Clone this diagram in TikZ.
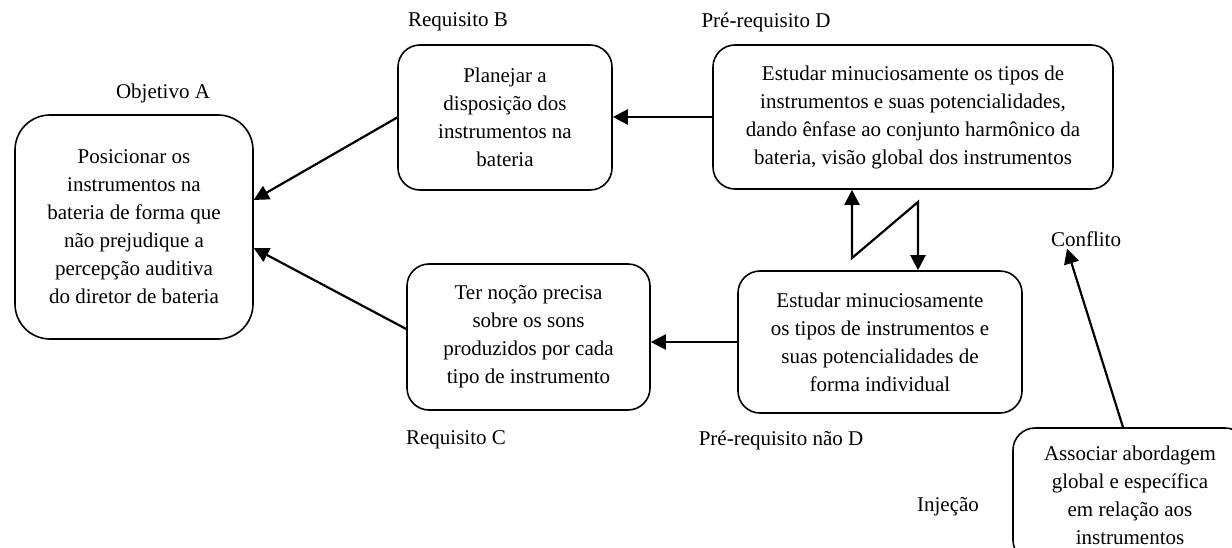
\documentclass[tikz,border=0pt]{standalone}
\usepackage{fontspec}
\setmainfont{Liberation Serif}
\usetikzlibrary{arrows.meta,calc}
\begin{document}
\begin{tikzpicture}[x=1pt,y=-1pt,
  box/.style={draw, line width=1.6pt, rounded corners=22pt, align=center, inner sep=0pt, font=\fontsize{21}{28}\selectfont},
  lbl/.style={inner sep=0pt, font=\fontsize{21}{28}\selectfont},
  arr/.style={line width=2.2pt, -{Triangle[length=15pt,width=15pt]}}]
\useasboundingbox (0,0) rectangle (1232,548);
\node[box, minimum width=238pt, minimum height=224pt, rounded corners=35pt] (A) at (134,227) {Posicionar os\\instrumentos na\\bateria de forma que\\não prejudique a\\percepção auditiva\\do diretor de bateria};
\node[box, minimum width=214pt, minimum height=145pt] (B) at (505,117.5) {Planejar a\\disposição dos\\instrumentos na\\bateria};
\node[box, minimum width=400pt, minimum height=144pt] (D) at (913,117) {Estudar minuciosamente os tipos de\\instrumentos e suas potencialidades,\\dando ênfase ao conjunto harmônico da\\bateria, visão global dos instrumentos};
\node[box, minimum width=284pt, minimum height=142pt] (nD) at (880,342) {Estudar minuciosamente\\os tipos de instrumentos e\\suas potencialidades de\\forma individual};
\node[box, minimum width=243pt, minimum height=146pt] (C) at (528.5,337) {Ter noção precisa\\sobre os sons\\produzidos por cada\\tipo de instrumento};
\node[box, minimum width=234pt, minimum height=134pt] (I) at (1130,495) {Associar abordagem\\global e específica\\em relação aos\\instrumentos};
\node[lbl] (lA) at (163,93) {Objetivo A};
\node[lbl] (lB) at (458,22) {Requisito B};
\node[lbl] (lD) at (766,22) {Pré-requisito D};
\node[lbl] (lC) at (456,440) {Requisito C};
\node[lbl] (lnD) at (781,440) {Pré-requisito não D};
\node[lbl] (lI) at (948,507) {Injeção};
\node[lbl] (conf) at (1086,239) {Conflito};
\coordinate (z1) at (852,258);
\coordinate (z2) at (918,202);
\draw[arr] (B.west) -- ([yshift=27pt]A.east);
\draw[arr] ([yshift=8pt]C.west) -- ([yshift=-21pt]A.east);
\draw[arr] (D.west) -- (D.west -| B.east);
\draw[arr] (nD.west) -- (nD.west -| C.east);
\draw[line width=2.2pt, {Triangle[length=15pt,width=15pt]}-{Triangle[length=15pt,width=15pt]}] (z1 |- D.south) -- (z1) -- (z2) -- (z2 |- nD.north);
\draw[arr] ([xshift=-7pt]I.north) -- ([xshift=-19pt,yshift=-2pt]conf.south);
\end{tikzpicture}
\end{document}
